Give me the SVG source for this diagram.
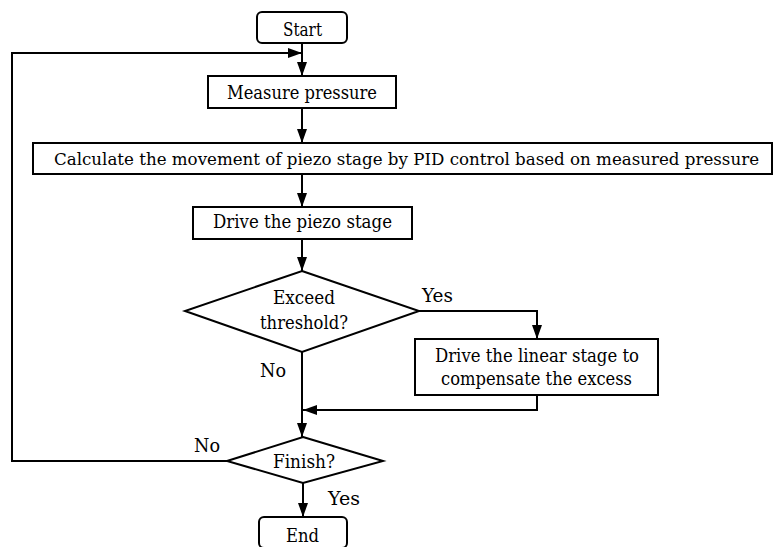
<svg xmlns="http://www.w3.org/2000/svg" width="774" height="547" viewBox="0 0 774 547">
<style>
.box{fill:#fff;stroke:#000;stroke-width:2}
.ln{fill:none;stroke:#000;stroke-width:2}
text{font-family:"DejaVu Serif",serif;font-size:18px;fill:#000}
text.cd{font-family:"DejaVu Serif Condensed","DejaVu Serif",serif;font-stretch:condensed;font-size:17.5px}
</style>
<defs>
<marker id="ah" viewBox="0 0 14 10" refX="14" refY="5" markerWidth="14" markerHeight="10" markerUnits="userSpaceOnUse" orient="auto">
<path d="M0,0 L14,5 L0,10 Z" fill="#000"/>
</marker>
</defs>
<g id="connectors">
<line class="ln" x1="302" y1="43" x2="302" y2="76" marker-end="url(#ah)"/>
<line class="ln" x1="302" y1="108" x2="302" y2="143" marker-end="url(#ah)"/>
<line class="ln" x1="302" y1="174" x2="302" y2="207" marker-end="url(#ah)"/>
<line class="ln" x1="302" y1="239" x2="302" y2="271" marker-end="url(#ah)"/>
<polyline class="ln" points="419,311 537,311 537,339" marker-end="url(#ah)"/>
<line class="ln" x1="302" y1="352" x2="302" y2="437" marker-end="url(#ah)"/>
<polyline class="ln" points="537,395 537,410 303,410" marker-end="url(#ah)"/>
<line class="ln" x1="303" y1="483" x2="303" y2="517" marker-end="url(#ah)"/>
<polyline class="ln" points="227,461 12,461 12,53 302,53" marker-end="url(#ah)"/>
<text x="422" y="302" textLength="31" lengthAdjust="spacingAndGlyphs">Yes</text>
<text x="260" y="377" textLength="26" lengthAdjust="spacingAndGlyphs">No</text>
<text x="194" y="452" textLength="26" lengthAdjust="spacingAndGlyphs">No</text>
<text x="328" y="505" textLength="32" lengthAdjust="spacingAndGlyphs">Yes</text>
</g>
<g id="start">
<rect class="box" x="257" y="12" width="90" height="31" rx="5"/>
<text x="283" y="36" textLength="39" lengthAdjust="spacingAndGlyphs">Start</text>
</g>
<g id="measure">
<rect class="box" x="208" y="76" width="188" height="32"/>
<text x="227" y="99" textLength="150" lengthAdjust="spacingAndGlyphs">Measure pressure</text>
</g>
<g id="calculate">
<rect class="box" x="33" y="143" width="739" height="31"/>
<text class="cd" x="54" y="165" textLength="705" lengthAdjust="spacingAndGlyphs">Calculate the movement of piezo stage by PID control based on measured pressure</text>
</g>
<g id="drive-piezo">
<rect class="box" x="193" y="207" width="219" height="32"/>
<text x="213" y="228" textLength="179" lengthAdjust="spacingAndGlyphs">Drive the piezo stage</text>
</g>
<g id="exceed">
<polygon class="box" points="302,271 419,311 302,352 185,311"/>
<text x="273" y="304" textLength="62" lengthAdjust="spacingAndGlyphs">Exceed</text>
<text x="260" y="329" textLength="88" lengthAdjust="spacingAndGlyphs">threshold?</text>
</g>
<g id="drive-linear">
<rect class="box" x="415" y="339" width="243" height="56"/>
<text x="435" y="362" textLength="204" lengthAdjust="spacingAndGlyphs">Drive the linear stage to</text>
<text x="441" y="385" textLength="191" lengthAdjust="spacingAndGlyphs">compensate the excess</text>
</g>
<g id="finish">
<polygon class="box" points="303,437 383,461 303,483 227,461"/>
<text x="273" y="468" textLength="62" lengthAdjust="spacingAndGlyphs">Finish?</text>
</g>
<g id="end">
<rect class="box" x="259" y="517" width="88" height="31" rx="5"/>
<text x="286" y="542" textLength="33" lengthAdjust="spacingAndGlyphs">End</text>
</g>
</svg>
